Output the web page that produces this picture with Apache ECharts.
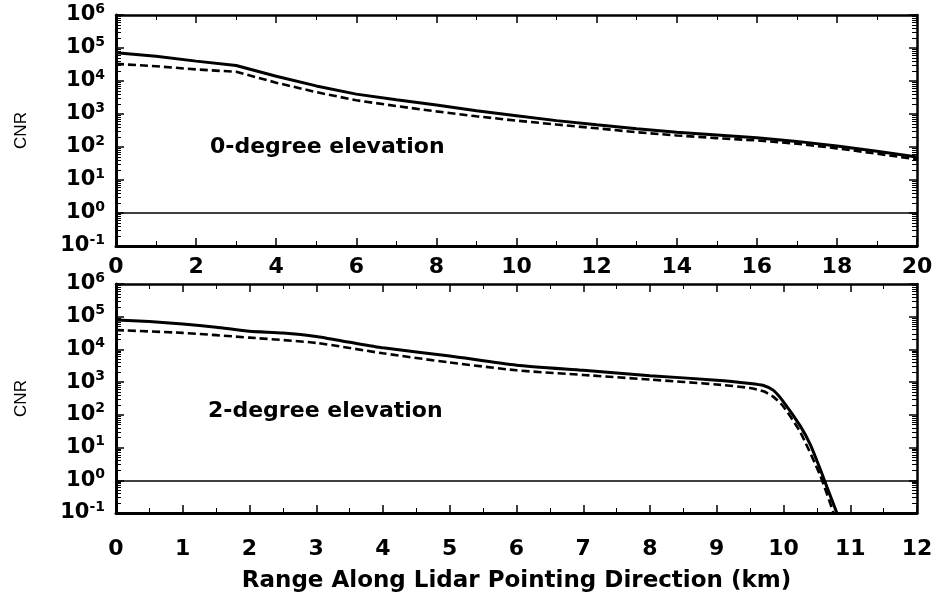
<!DOCTYPE html>
<html>
<head>
<meta charset="utf-8">
<script src="https://cdn.jsdelivr.net/npm/echarts@6/dist/echarts.min.js"></script>
<style>html,body{margin:0;padding:0;background:#fff}#c{width:936px;height:595px}</style>
</head>
<body>
<div id="c"></div>
<script>
// ---- data ----
const topRange = [0,1,2,3,4,5,6,7,8,9,10,11,12,13,14,15,16,17,18,19,20];
const topSolid = [7.2e4,5.6e4,4.0e4,2.95e4,1.4e4,7.1e3,4.0e3,2.7e3,1.86e3,1.26e3,890,630,470,355,280,230,190,148,107,74,50];
const topDashed = [3.3e4,2.8e4,2.24e4,1.9e4,8.9e3,4.6e3,2.6e3,1.74e3,1.2e3,850,631,480,370,280,224,186,158,126,91,63,42];

const botRangeSolid = [0,0.5,1,1.5,2,2.5,3,3.5,4,5,6,7,8,9,9.5,9.7,9.85,10,10.25,10.4,10.55,10.65,10.8];
const botSolid = [7.9e4,7.1e4,6.0e4,4.8e4,3.6e4,3.2e4,2.5e4,1.66e4,1.12e4,6.3e3,3.3e3,2.3e3,1.58e3,1.15e3,910,790,560,250,46,12.6,2.2,0.63,0.1];
const botRangeDashed = [0,1,2,3,4,5,6,7,8,9,9.5,9.7,9.85,10,10.25,10.55,10.75];
const botDashed = [3.9e4,3.2e4,2.3e4,1.58e4,7.6e3,4.0e3,2.3e3,1.66e3,1.2e3,850,660,525,355,178,30,1.4,0.1];

const refLevel = 1;
const yTicks = [0.1, 1e6];
const topXTicks = [0, 20, 2];
const botXTicks = [0, 12, 1];

const xTitle = 'Range Along Lidar Pointing Direction (km)';
const yTitle = 'CNR';
const label0 = '0-degree elevation';
const label2 = '2-degree elevation';

// ---- chart ----
const FONT = 'DejaVu Sans';
const TICK = '#000';
const chart = echarts.init(document.getElementById('c'), null, {renderer:'canvas'});

function pow10Label(v){
  const e = Math.round(Math.log10(v));
  return '{b|10}{s|' + e + '}';
}
const richY = {
  b:{fontFamily:FONT,fontWeight:'bold',fontSize:21,color:'#000'},
  s:{fontFamily:FONT,fontWeight:'bold',fontSize:14,color:'#000',padding:[0,0,12,0]}
};

function yAxisLeft(grid){
  return {
    type:'log', logBase:10, gridIndex:grid, min:yTicks[0], max:yTicks[1], interval:1,
    position:'left',
    name:yTitle, nameLocation:'middle', nameGap:86, nameRotate:90,
    nameTextStyle:{fontFamily:'Liberation Sans',fontSize:17,color:'#000'},
    axisLine:{show:true,onZero:false,lineStyle:{color:'#000',width:3}},
    axisTick:{show:true,inside:true,length:8,lineStyle:{color:TICK,width:1.5}},
    minorTick:{show:true,splitNumber:9,length:5,lineStyle:{color:TICK,width:1}},
    axisLabel:{formatter:pow10Label,rich:richY,margin:11},
    splitLine:{show:false}
  };
}
function yAxisRight(grid){
  return {
    type:'log', logBase:10, gridIndex:grid, min:yTicks[0], max:yTicks[1], interval:1,
    position:'right',
    axisLine:{show:true,onZero:false,lineStyle:{color:'#000',width:2.5}},
    axisTick:{show:true,inside:true,length:8,lineStyle:{color:TICK,width:1.5}},
    minorTick:{show:true,splitNumber:9,length:5,lineStyle:{color:TICK,width:1}},
    axisLabel:{show:false}, splitLine:{show:false}
  };
}
function xAxis(grid, t, pos, labels, margin){
  return {
    type:'value', gridIndex:grid, min:t[0], max:t[1], interval:t[2], position:pos,
    axisLine:{show:true,onZero:false,lineStyle:{color:'#000',width:pos==='bottom'?3:2.5}},
    axisTick:{show:true,inside:true,length:8,lineStyle:{color:TICK,width:1.5}},
    minorTick:{show:true,splitNumber:2,length:5,lineStyle:{color:TICK,width:1}},
    axisLabel:{show:labels,margin:margin,fontFamily:FONT,fontWeight:'bold',fontSize:22,color:'#000'},
    splitLine:{show:false}
  };
}

const xAxes = [
  xAxis(0, topXTicks, 'bottom', true, 10),
  xAxis(0, topXTicks, 'top', false, 0),
  Object.assign(xAxis(1, botXTicks, 'bottom', true, 25), {
    name:xTitle, nameLocation:'middle', nameGap:57,
    nameTextStyle:{fontFamily:FONT,fontWeight:'bold',fontSize:23,color:'#000'}
  }),
  xAxis(1, botXTicks, 'top', false, 0)
];

const lineSolid = {color:'#000',width:3,type:'solid'};
const lineDashed = {color:'#000',width:2.6,type:[8,4]};
const refLine = {
  silent:true, symbol:['none','none'], label:{show:false},
  lineStyle:{color:'#000',width:1.5,type:'solid'},
  data:[{yAxis:refLevel}]
};

const option = {
  animation:false,
  backgroundColor:'#fff',
  grid:[
    {left:116,top:15,width:801,height:231,containLabel:false},
    {left:116,top:284,width:801,height:229,containLabel:false}
  ],
  xAxis:xAxes,
  yAxis:[yAxisLeft(0), yAxisRight(0), yAxisLeft(1), yAxisRight(1)],
  series:[
    {type:'line',xAxisIndex:0,yAxisIndex:0,showSymbol:false,lineStyle:lineSolid,
     data:topRange.map((x,i)=>[x,topSolid[i]]), markLine:refLine, z:3},
    {type:'line',xAxisIndex:0,yAxisIndex:0,showSymbol:false,lineStyle:lineDashed,
     data:topRange.map((x,i)=>[x,topDashed[i]]), z:2},
    {type:'line',xAxisIndex:2,yAxisIndex:2,showSymbol:false,lineStyle:lineSolid,smooth:0.2,
     data:botRangeSolid.map((x,i)=>[x,botSolid[i]]), markLine:refLine, z:3},
    {type:'line',xAxisIndex:2,yAxisIndex:2,showSymbol:false,lineStyle:lineDashed,smooth:0.2,
     data:botRangeDashed.map((x,i)=>[x,botDashed[i]]), z:2}
  ],
  graphic:[
    {type:'text',left:210,top:136,style:{text:label0,fontFamily:FONT,fontWeight:'bold',fontSize:22,fill:'#000'}},
    {type:'text',left:208,top:400,style:{text:label2,fontFamily:FONT,fontWeight:'bold',fontSize:22,fill:'#000'}}
  ]
};
chart.setOption(option);
</script>
</body>
</html>
